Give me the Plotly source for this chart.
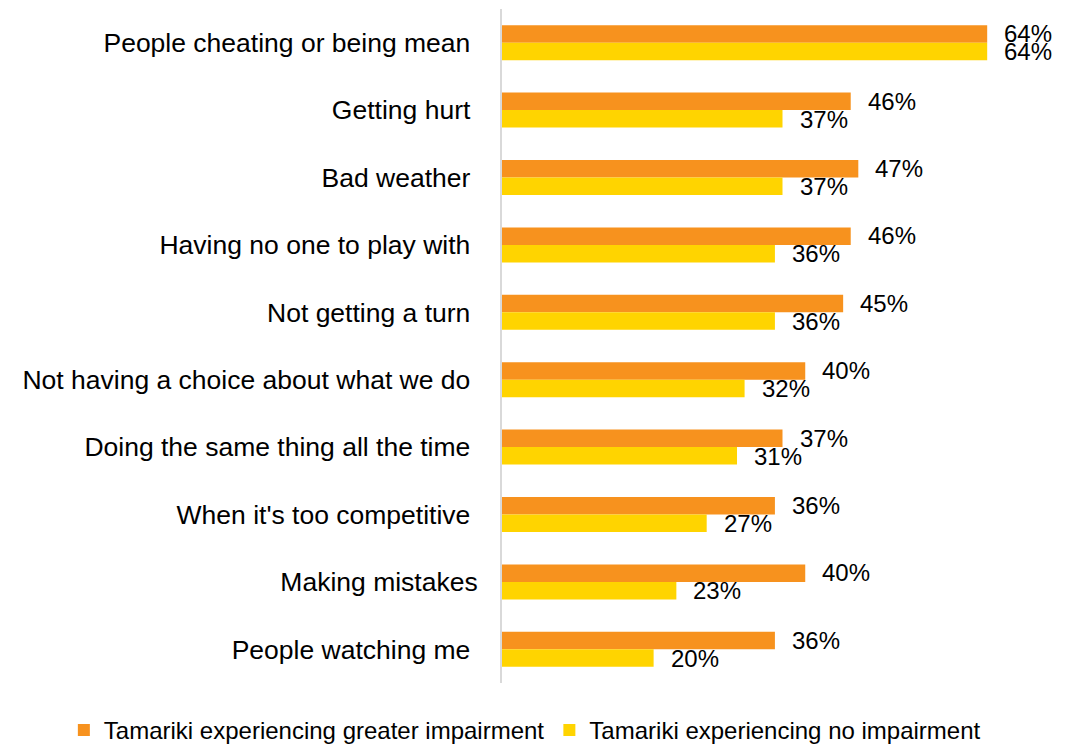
import plotly.graph_objects as go

categories = [
    "People cheating or being mean",
    "Getting hurt",
    "Bad weather",
    "Having no one to play with",
    "Not getting a turn",
    "Not having a choice about what we do",
    "Doing the same thing all the time",
    "When it's too competitive",
    "Making mistakes",
    "People watching me",
]
greater_impairment = [64, 46, 47, 46, 45, 40, 37, 36, 40, 36]
no_impairment = [64, 37, 37, 36, 36, 32, 31, 27, 23, 20]
series_names = [
    "Tamariki experiencing greater impairment",
    "Tamariki experiencing no impairment",
]

ORANGE = "#F7921E"
YELLOW = "#FFD400"
FONT = "Liberation Sans, Arial, sans-serif"

# trailing non-breaking space keeps most labels a little clear of the axis
tick_text = [c if c == "Making mistakes" else c + "\u00a0" for c in categories]

fig = go.Figure()
fig.add_trace(go.Bar(
    y=categories, x=greater_impairment, orientation="h",
    name=series_names[0], marker=dict(color=ORANGE, line=dict(width=0)),
))
fig.add_trace(go.Bar(
    y=categories, x=no_impairment, orientation="h",
    name=series_names[1], marker=dict(color=YELLOW, line=dict(width=0)),
))

annotations = []
for cat, v in zip(categories, greater_impairment):
    annotations.append(dict(
        x=v, y=cat, xref="x", yref="y", text=f"{v}%", showarrow=False,
        xanchor="left", yanchor="middle", xshift=15, yshift=9,
        font=dict(family=FONT, size=24, color="#000000"),
    ))
for cat, v in zip(categories, no_impairment):
    annotations.append(dict(
        x=v, y=cat, xref="x", yref="y", text=f"{v}%", showarrow=False,
        xanchor="left", yanchor="middle", xshift=15, yshift=-9,
        font=dict(family=FONT, size=24, color="#000000"),
    ))

fig.update_layout(
    width=1076, height=745,
    margin=dict(l=502, r=13, t=9, b=62, autoexpand=False),
    paper_bgcolor="white", plot_bgcolor="white",
    barmode="group", bargap=0.48, bargroupgap=0,
    font=dict(family=FONT, size=24, color="#000000"),
    annotations=annotations,
    legend=dict(
        orientation="h", x=-0.781, xanchor="left", y=-0.037, yanchor="top",
        font=dict(family=FONT, size=24, color="#000000"),
        itemwidth=30, traceorder="normal",
    ),
    showlegend=True,
)
fig.update_xaxes(
    range=[0, 74], showgrid=False, zeroline=False, showticklabels=False,
    showline=False, ticks="",
)
fig.update_yaxes(
    autorange="reversed", showgrid=False, zeroline=False,
    showline=True, linecolor="#D9D9D9", linewidth=2, ticks="",
    tickmode="array", tickvals=categories, ticktext=tick_text,
    tickfont=dict(family=FONT, size=26.5, color="#000000"),
    ticklabelstandoff=17,
)

fig.write_html("out.html")
